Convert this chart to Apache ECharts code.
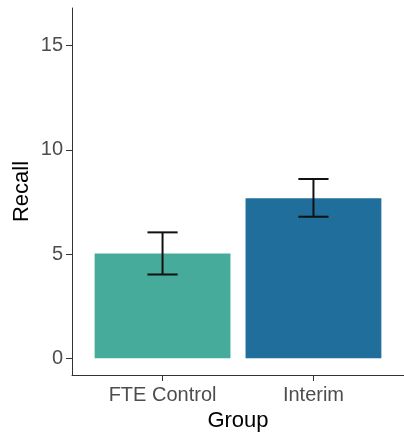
<!DOCTYPE html>
<html>
<head>
<meta charset="utf-8">
<script src="https://cdn.jsdelivr.net/npm/echarts@6/dist/echarts.min.js"></script>
<style>
  html, body { margin: 0; padding: 0; background: #fff; }
  #chart { width: 404px; height: 438px; }
</style>
</head>
<body>
<div id="chart"></div>
<script>
// Mean recall per group with error bar limits
const groups = ['FTE Control', 'Interim'];
const recallMean = [5.03, 7.68];
const recallLower = [4.02, 6.79];
const recallUpper = [6.04, 8.60];
const yTicks = [0, 5, 10, 15];

const barColors = ['#46AB9A', '#1F6E9B'];
const FONT = '"Liberation Sans", Arial, sans-serif';

// Groups sit at positions 1..n on a continuous x scale
const groupPos = groups.map((g, i) => i + 1);
const barData = groupPos.map((x, i) => [x, recallMean[i]]);
const errData = groupPos.map((x, i) => [x, recallLower[i], recallUpper[i]]);

const chart = echarts.init(document.getElementById('chart'), null, { renderer: 'canvas' });

chart.setOption({
  animation: false,
  backgroundColor: '#ffffff',
  grid: { left: 72, top: 8, right: -4.5, bottom: 63 },
  xAxis: {
    type: 'value',
    min: 0.4,
    max: groups.length + 0.6,
    name: 'Group',
    nameLocation: 'middle',
    nameGap: 35,
    nameMoveOverlap: false,
    nameTextStyle: { fontFamily: FONT, fontSize: 22, color: '#000' },
    axisLine: { show: true, onZero: false, lineStyle: { color: '#333', width: 1 } },
    axisTick: { show: true, length: 6, lineStyle: { color: '#333' }, customValues: groupPos },
    axisLabel: {
      customValues: groupPos,
      margin: 10,
      fontFamily: FONT,
      fontSize: 20,
      color: '#4D4D4D',
      formatter: v => groups[Math.round(v) - 1] || ''
    },
    splitLine: { show: false }
  },
  yAxis: {
    type: 'value',
    min: -0.8,
    max: 16.8,
    name: 'Recall',
    nameLocation: 'middle',
    nameRotate: 90,
    nameGap: 39,
    nameMoveOverlap: false,
    nameTextStyle: { fontFamily: FONT, fontSize: 22, color: '#000' },
    axisLine: { show: true, onZero: false, lineStyle: { color: '#333', width: 1 } },
    axisTick: { show: true, length: 6, lineStyle: { color: '#333' }, customValues: yTicks },
    axisLabel: {
      customValues: yTicks,
      margin: 9,
      fontFamily: FONT,
      fontSize: 20,
      color: '#4D4D4D'
    },
    splitLine: { show: false }
  },
  series: [
    {
      type: 'custom',
      data: barData,
      renderItem: function (params, api) {
        const x = api.value(0);
        const y = api.value(1);
        const p0 = api.coord([x - 0.45, 0]);
        const p1 = api.coord([x + 0.45, y]);
        return {
          type: 'rect',
          shape: { x: p0[0], y: p1[1], width: p1[0] - p0[0], height: p0[1] - p1[1] },
          style: { fill: barColors[params.dataIndex % barColors.length] }
        };
      }
    },
    {
      type: 'custom',
      data: errData,
      z: 3,
      renderItem: function (params, api) {
        const x = api.value(0);
        const lo = api.value(1);
        const hi = api.value(2);
        const top = api.coord([x, hi]);
        const bot = api.coord([x, lo]);
        const capL = api.coord([x - 0.1, hi])[0];
        const capR = api.coord([x + 0.1, hi])[0];
        const st = { stroke: '#111', lineWidth: 2, fill: null };
        return {
          type: 'group',
          children: [
            { type: 'line', shape: { x1: top[0], y1: top[1], x2: bot[0], y2: bot[1] }, style: st },
            { type: 'line', shape: { x1: capL, y1: top[1], x2: capR, y2: top[1] }, style: st },
            { type: 'line', shape: { x1: capL, y1: bot[1], x2: capR, y2: bot[1] }, style: st }
          ]
        };
      }
    }
  ]
});
</script>
</body>
</html>
